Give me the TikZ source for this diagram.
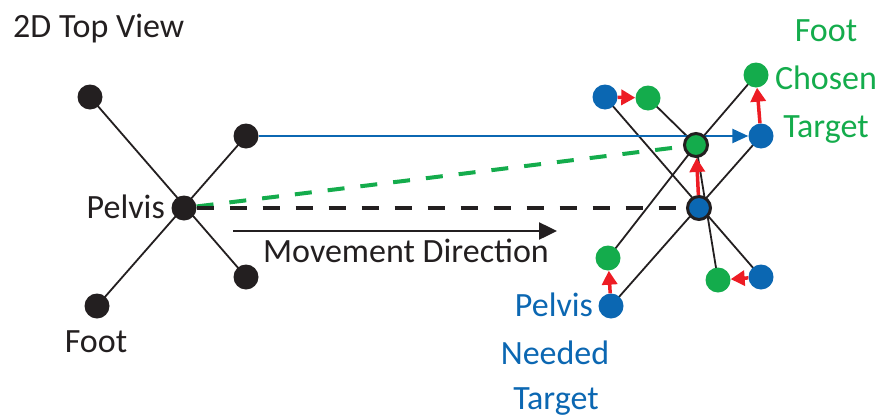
\documentclass[tikz,border=0pt]{standalone}
\usepackage{fontspec}
\setmainfont{Carlito}
\usepackage{tikz}
\usetikzlibrary{arrows.meta, backgrounds}
\definecolor{jointblue}{RGB}{11, 103, 178}
\definecolor{jointgreen}{RGB}{20, 172, 76}
\definecolor{pushred}{RGB}{237, 28, 36}
\definecolor{inkblack}{RGB}{35, 31, 32}

\tikzset{
  joint/.style={circle, minimum size=25pt, inner sep=0pt, fill=#1},
  joint/.default=inkblack,
  bone/.style={draw=inkblack, line width=1.8pt},
  push/.style={draw=pushred, line width=3.5pt, -{Triangle[length=14pt, width=15pt]}},
  label/.style={font=\fontsize{34}{40}\selectfont, inner sep=0pt, text=#1},
  label/.default=inkblack
}

\begin{document}
\begin{tikzpicture}[x=1pt, y=-1pt]
        \useasboundingbox (0,0) rectangle (881,418);
        % Current skeleton
        \node[joint] (pelvis) at (184,208) {};
        \node[joint] (lfootA) at (90,97) {};
        \node[joint] (lfootB) at (246,136) {};
        \node[joint] (lfootC) at (97,306) {};
        \node[joint] (lfootD) at (246,277) {};
        % Needed targets
        \node[joint=jointblue, draw=inkblack, line width=3pt, minimum size=23pt] (needed) at (699,208) {};
        \node[joint=jointblue] (nfootA) at (605,97) {};
        \node[joint=jointblue] (nfootB) at (761,136) {};
        \node[joint=jointblue] (nfootC) at (611,306) {};
        \node[joint=jointblue] (nfootD) at (761,277) {};
        % Chosen targets
        \node[joint=jointgreen, draw=inkblack, line width=3pt, minimum size=23pt] (chosen) at (696,145) {};
        \node[joint=jointgreen] (cfootA) at (648,98) {};
        \node[joint=jointgreen] (cfootB) at (756,75) {};
        \node[joint=jointgreen] (cfootC) at (608,258) {};
        \node[joint=jointgreen] (cfootD) at (718,280) {};
        \coordinate (movestart) at (233,231);
        \coordinate (moveend) at (557,231);
        \begin{pgfonlayer}{background}
          \draw[bone] (lfootA.center) -- (lfootD.center);
          \draw[bone] (lfootC.center) -- (lfootB.center);
          \draw[bone] (nfootA.center) -- (nfootD.center);
          \draw[bone] (nfootC.center) -- (nfootB.center);
          \foreach \f in {cfootA, cfootB, cfootC, cfootD}
            \draw[bone] (chosen.center) -- (\f.center);
          \draw[jointblue, line width=2.5pt, -{Triangle[length=16pt, width=14pt]}] (lfootB) -- (nfootB);
          \draw[jointgreen, line width=4pt, dash pattern=on 17pt off 16pt] (pelvis) -- (chosen);
          \draw[inkblack, line width=4pt, dash pattern=on 17pt off 16pt] (pelvis) -- (needed);
        \end{pgfonlayer}
        \draw[inkblack, line width=2.5pt, -{Triangle[length=18pt, width=17pt]}] (movestart) -- (moveend);
        % Adjustments
        \draw[push] (nfootA) -- (cfootA);
        \draw[push] (nfootB) -- (cfootB);
        \draw[push] (nfootC) -- (cfootC);
        \draw[push] (nfootD) -- (cfootD);
        \draw[push] (needed) -- (chosen);
        % Labels
        \node[label, anchor=base west] (title) at (13,37) {2D Top View};
        \node[label, anchor=base east] (pelvistext) at (165,218) {Pelvis};
        \node[label, anchor=base] (foottext) at (96,352) {Foot};
        \node[label, anchor=base] (movetext) at (406,262) {Movement Direction};
        \node[label=jointgreen, anchor=base] (chosenA) at (826,41) {Foot};
        \node[label=jointgreen, anchor=base] (chosenB) at (826,89) {Chosen};
        \node[label=jointgreen, anchor=base] (chosenC) at (826,137) {Target};
        \node[label=jointblue, anchor=base] (neededA) at (554,316) {Pelvis};
        \node[label=jointblue, anchor=base] (neededB) at (555,364) {Needed};
        \node[label=jointblue, anchor=base] (neededC) at (556,409) {Target};
      \end{tikzpicture}
\end{document}
